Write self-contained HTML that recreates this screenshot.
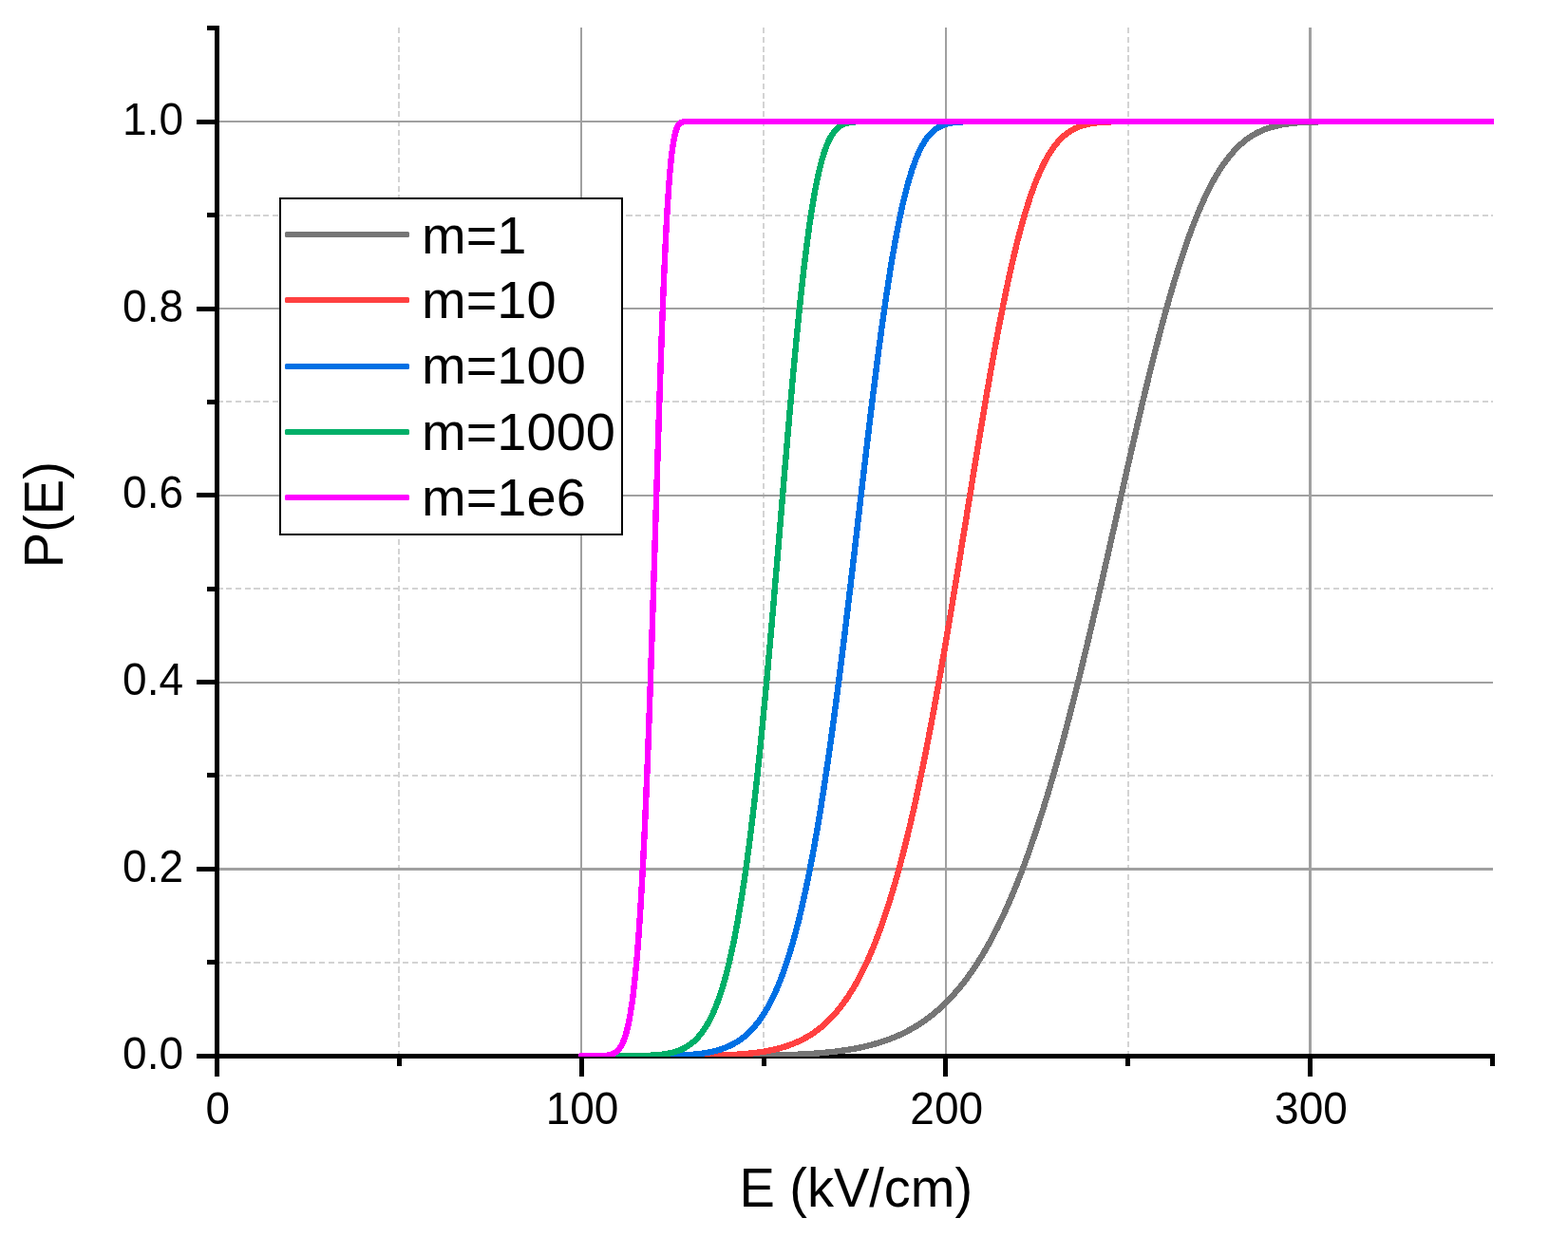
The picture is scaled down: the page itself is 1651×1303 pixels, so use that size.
<!DOCTYPE html>
<html lang="en"><head><meta charset="utf-8"><title>P(E) vs E (kV/cm)</title>
<style>html,body{margin:0;padding:0;background:#fff;}body{width:1651px;height:1303px;overflow:hidden;}svg{display:block;}text{font-family:"Liberation Sans",sans-serif;fill:#000;}</style>
</head><body>
<svg width="1651" height="1303" viewBox="0 0 1651 1303">
<rect x="0" y="0" width="1651" height="1303" fill="#fff"/>
<g shape-rendering="crispEdges">
<line x1="228.3" x2="1572" y1="227" y2="227" stroke="#d3d3d3" stroke-width="2" stroke-dasharray="6.2 3.597"/>
<line x1="228.3" x2="1572" y1="423" y2="423" stroke="#d3d3d3" stroke-width="2" stroke-dasharray="6.2 3.597"/>
<line x1="228.3" x2="1572" y1="620" y2="620" stroke="#d3d3d3" stroke-width="2" stroke-dasharray="6.2 3.597"/>
<line x1="228.3" x2="1572" y1="817" y2="817" stroke="#d3d3d3" stroke-width="2" stroke-dasharray="6.2 3.597"/>
<line x1="228.3" x2="1572" y1="1014" y2="1014" stroke="#d3d3d3" stroke-width="2" stroke-dasharray="6.2 3.597"/>
<line x1="420" x2="420" y1="29" y2="1110" stroke="#d3d3d3" stroke-width="2" stroke-dasharray="6.2 3.597"/>
<line x1="804" x2="804" y1="29" y2="1110" stroke="#d3d3d3" stroke-width="2" stroke-dasharray="6.2 3.597"/>
<line x1="1188" x2="1188" y1="29" y2="1110" stroke="#d3d3d3" stroke-width="2" stroke-dasharray="6.2 3.597"/>
<rect x="231" y="127" width="1341" height="2" fill="#a0a0a0"/>
<rect x="231" y="324" width="1341" height="2" fill="#a0a0a0"/>
<rect x="231" y="521" width="1341" height="2" fill="#a0a0a0"/>
<rect x="231" y="718" width="1341" height="2" fill="#a0a0a0"/>
<rect x="231" y="914" width="1341" height="3" fill="#a0a0a0"/>
<rect x="611" y="29" width="2" height="1081" fill="#a0a0a0"/>
<rect x="995" y="29" width="2" height="1081" fill="#a0a0a0"/>
<rect x="1378" y="29" width="3" height="1081" fill="#a0a0a0"/>
</g>
<g shape-rendering="crispEdges" fill="#000">
<rect x="226" y="27" width="5" height="1088"/>
<rect x="226" y="1110" width="1348" height="5"/>
<rect x="207" y="1110" width="19" height="5"/>
<rect x="218" y="1011" width="8" height="5"/>
<rect x="207" y="913" width="19" height="5"/>
<rect x="218" y="814" width="8" height="5"/>
<rect x="207" y="716" width="19" height="5"/>
<rect x="218" y="618" width="8" height="5"/>
<rect x="207" y="519" width="19" height="5"/>
<rect x="218" y="421" width="8" height="5"/>
<rect x="207" y="323" width="19" height="5"/>
<rect x="218" y="224" width="8" height="5"/>
<rect x="207" y="126" width="19" height="5"/>
<rect x="218" y="27" width="8" height="5"/>
<rect x="226" y="1115" width="5" height="19"/>
<rect x="418" y="1115" width="5" height="8"/>
<rect x="610" y="1115" width="5" height="19"/>
<rect x="802" y="1115" width="5" height="8"/>
<rect x="993" y="1115" width="5" height="19"/>
<rect x="1185" y="1115" width="5" height="8"/>
<rect x="1377" y="1115" width="5" height="19"/>
<rect x="1569" y="1115" width="5" height="8"/>
</g>
<defs><clipPath id="plot"><rect x="228" y="20" width="1345" height="1093"/></clipPath></defs>
<g clip-path="url(#plot)" fill="none" stroke-width="6.4" stroke-linejoin="round" stroke-linecap="round" shape-rendering="crispEdges">
<path d="M612.21 1112.20 L692.79 1112.20 L701.42 1112.20 L707.18 1112.20 L711.02 1112.20 L714.85 1112.19 L717.73 1112.19 L720.61 1112.19 L722.53 1112.19 L724.45 1112.19 L726.36 1112.19 L728.28 1112.19 L730.20 1112.19 L732.12 1112.18 L733.08 1112.18 L734.04 1112.18 L735.00 1112.18 L735.96 1112.18 L736.92 1112.18 L737.88 1112.18 L738.83 1112.18 L739.79 1112.17 L740.75 1112.17 L741.71 1112.17 L742.67 1112.17 L743.63 1112.17 L744.59 1112.17 L745.55 1112.16 L746.51 1112.16 L747.47 1112.16 L748.43 1112.16 L749.39 1112.16 L750.35 1112.15 L751.30 1112.15 L752.26 1112.15 L753.22 1112.15 L754.18 1112.15 L755.14 1112.14 L756.10 1112.14 L757.06 1112.14 L758.02 1112.13 L758.98 1112.13 L759.94 1112.13 L760.90 1112.12 L761.86 1112.12 L762.82 1112.12 L763.78 1112.11 L764.73 1112.11 L765.69 1112.11 L766.65 1112.10 L767.61 1112.10 L768.57 1112.09 L769.53 1112.09 L770.49 1112.08 L771.45 1112.08 L772.41 1112.07 L773.37 1112.07 L774.33 1112.06 L775.29 1112.06 L776.25 1112.05 L777.21 1112.04 L778.16 1112.04 L779.12 1112.03 L780.08 1112.02 L781.04 1112.02 L782.00 1112.01 L782.96 1112.00 L783.92 1111.99 L784.88 1111.98 L785.84 1111.98 L786.80 1111.97 L787.76 1111.96 L788.72 1111.95 L789.68 1111.94 L790.64 1111.93 L791.59 1111.92 L792.55 1111.91 L793.51 1111.90 L794.47 1111.89 L795.43 1111.87 L796.39 1111.86 L797.35 1111.85 L798.31 1111.84 L799.27 1111.82 L800.23 1111.81 L801.19 1111.80 L802.15 1111.78 L803.11 1111.77 L804.06 1111.75 L805.02 1111.73 L805.98 1111.72 L806.94 1111.70 L807.90 1111.68 L808.86 1111.67 L809.82 1111.65 L810.78 1111.63 L811.74 1111.61 L812.70 1111.59 L813.66 1111.57 L814.62 1111.55 L815.58 1111.52 L816.54 1111.50 L817.49 1111.48 L818.45 1111.45 L819.41 1111.43 L820.37 1111.40 L821.33 1111.38 L822.29 1111.35 L823.25 1111.32 L824.21 1111.30 L825.17 1111.27 L826.13 1111.24 L827.09 1111.21 L828.05 1111.17 L829.01 1111.14 L829.97 1111.11 L830.92 1111.07 L831.88 1111.04 L832.84 1111.00 L833.80 1110.97 L834.76 1110.93 L835.72 1110.89 L836.68 1110.85 L837.64 1110.81 L838.60 1110.77 L839.56 1110.72 L840.52 1110.68 L841.48 1110.64 L842.44 1110.59 L843.40 1110.54 L844.35 1110.49 L845.31 1110.44 L846.27 1110.39 L847.23 1110.34 L848.19 1110.29 L849.15 1110.23 L850.11 1110.17 L851.07 1110.12 L852.03 1110.06 L852.99 1110.00 L853.95 1109.93 L854.91 1109.87 L855.87 1109.80 L856.83 1109.74 L857.78 1109.67 L858.74 1109.60 L859.70 1109.53 L860.66 1109.46 L861.62 1109.38 L862.58 1109.30 L863.54 1109.23 L864.50 1109.14 L865.46 1109.06 L866.42 1108.98 L867.38 1108.89 L868.34 1108.80 L869.30 1108.72 L870.25 1108.62 L871.21 1108.53 L872.17 1108.43 L873.13 1108.33 L874.09 1108.23 L875.05 1108.13 L876.01 1108.03 L876.97 1107.92 L877.93 1107.81 L878.89 1107.70 L879.85 1107.58 L880.81 1107.47 L881.77 1107.35 L882.73 1107.23 L883.68 1107.10 L884.64 1106.97 L885.60 1106.85 L886.56 1106.71 L887.52 1106.58 L888.48 1106.44 L889.44 1106.30 L890.40 1106.15 L891.36 1106.01 L892.32 1105.86 L893.28 1105.70 L894.24 1105.55 L895.20 1105.39 L896.16 1105.23 L897.11 1105.06 L898.07 1104.89 L899.03 1104.72 L899.99 1104.54 L900.95 1104.36 L901.91 1104.18 L902.87 1103.99 L903.83 1103.80 L904.79 1103.61 L905.75 1103.41 L906.71 1103.21 L907.67 1103.00 L908.63 1102.79 L909.59 1102.57 L910.54 1102.36 L911.50 1102.13 L912.46 1101.91 L913.42 1101.68 L914.38 1101.44 L915.34 1101.20 L916.30 1100.96 L917.26 1100.71 L918.22 1100.45 L919.18 1100.19 L920.14 1099.93 L921.10 1099.66 L922.06 1099.39 L923.02 1099.11 L923.97 1098.83 L924.93 1098.54 L925.89 1098.24 L926.85 1097.94 L927.81 1097.64 L928.77 1097.33 L929.73 1097.01 L930.69 1096.69 L931.65 1096.37 L932.61 1096.03 L933.57 1095.69 L934.53 1095.35 L935.49 1095.00 L936.44 1094.64 L937.40 1094.28 L938.36 1093.91 L939.32 1093.53 L940.28 1093.15 L941.24 1092.76 L942.20 1092.36 L943.16 1091.96 L944.12 1091.55 L945.08 1091.13 L946.04 1090.71 L947.00 1090.28 L947.96 1089.84 L948.92 1089.39 L949.87 1088.94 L950.83 1088.48 L951.79 1088.01 L952.75 1087.53 L953.71 1087.05 L954.67 1086.56 L955.63 1086.06 L956.59 1085.55 L957.55 1085.03 L958.51 1084.51 L959.47 1083.97 L960.43 1083.43 L961.39 1082.88 L962.35 1082.32 L963.30 1081.75 L964.26 1081.17 L965.22 1080.59 L966.18 1079.99 L967.14 1079.38 L968.10 1078.77 L969.06 1078.14 L970.02 1077.51 L970.98 1076.86 L971.94 1076.21 L972.90 1075.55 L973.86 1074.87 L974.82 1074.19 L975.78 1073.49 L976.73 1072.78 L977.69 1072.07 L978.65 1071.34 L979.61 1070.60 L980.57 1069.85 L981.53 1069.09 L982.49 1068.32 L983.45 1067.54 L984.41 1066.74 L985.37 1065.93 L986.33 1065.12 L987.29 1064.29 L988.25 1063.44 L989.21 1062.59 L990.16 1061.72 L991.12 1060.84 L992.08 1059.95 L993.04 1059.04 L994.00 1058.13 L994.96 1057.19 L995.92 1056.25 L996.88 1055.29 L997.84 1054.32 L998.80 1053.34 L999.76 1052.34 L1000.72 1051.33 L1001.68 1050.30 L1002.63 1049.26 L1003.59 1048.21 L1004.55 1047.14 L1005.51 1046.06 L1006.47 1044.96 L1007.43 1043.85 L1008.39 1042.72 L1009.35 1041.58 L1010.31 1040.42 L1011.27 1039.24 L1012.23 1038.06 L1013.19 1036.85 L1014.15 1035.63 L1015.11 1034.39 L1016.06 1033.14 L1017.02 1031.87 L1017.98 1030.59 L1018.94 1029.29 L1019.90 1027.97 L1020.86 1026.64 L1021.82 1025.28 L1022.78 1023.92 L1023.74 1022.53 L1024.70 1021.13 L1025.66 1019.71 L1026.62 1018.27 L1027.58 1016.81 L1028.54 1015.34 L1029.49 1013.85 L1030.45 1012.34 L1031.41 1010.81 L1032.37 1009.26 L1033.33 1007.70 L1034.29 1006.11 L1035.25 1004.51 L1036.21 1002.89 L1037.17 1001.25 L1038.13 999.59 L1039.09 997.91 L1040.05 996.21 L1041.01 994.49 L1041.97 992.75 L1042.92 990.99 L1043.88 989.22 L1044.84 987.42 L1045.80 985.60 L1046.76 983.76 L1047.72 981.90 L1048.68 980.02 L1049.64 978.12 L1050.60 976.20 L1051.56 974.26 L1052.52 972.29 L1053.48 970.31 L1054.44 968.30 L1055.40 966.27 L1056.35 964.22 L1057.31 962.15 L1058.27 960.06 L1059.23 957.95 L1060.19 955.81 L1061.15 953.65 L1062.11 951.47 L1063.07 949.27 L1064.03 947.04 L1064.99 944.80 L1065.95 942.53 L1066.91 940.24 L1067.87 937.92 L1068.82 935.58 L1069.78 933.22 L1070.74 930.84 L1071.70 928.43 L1072.66 926.00 L1073.62 923.55 L1074.58 921.08 L1075.54 918.58 L1076.50 916.06 L1077.46 913.51 L1078.42 910.94 L1079.38 908.35 L1080.34 905.74 L1081.30 903.10 L1082.25 900.44 L1083.21 897.75 L1084.17 895.04 L1085.13 892.31 L1086.09 889.56 L1087.05 886.78 L1088.01 883.97 L1088.97 881.15 L1089.93 878.30 L1090.89 875.42 L1091.85 872.53 L1092.81 869.61 L1093.77 866.66 L1094.73 863.69 L1095.68 860.70 L1096.64 857.69 L1097.60 854.65 L1098.56 851.59 L1099.52 848.50 L1100.48 845.39 L1101.44 842.26 L1102.40 839.11 L1103.36 835.93 L1104.32 832.73 L1105.28 829.51 L1106.24 826.26 L1107.20 822.99 L1108.16 819.70 L1109.11 816.39 L1110.07 813.05 L1111.03 809.69 L1111.99 806.31 L1112.95 802.91 L1113.91 799.48 L1114.87 796.03 L1115.83 792.57 L1116.79 789.07 L1117.75 785.56 L1118.71 782.03 L1119.67 778.48 L1120.63 774.90 L1121.59 771.31 L1122.54 767.69 L1123.50 764.05 L1124.46 760.40 L1125.42 756.72 L1126.38 753.02 L1127.34 749.31 L1128.30 745.57 L1129.26 741.82 L1130.22 738.04 L1131.18 734.25 L1132.14 730.44 L1133.10 726.62 L1134.06 722.77 L1135.01 718.91 L1135.97 715.03 L1136.93 711.13 L1137.89 707.21 L1138.85 703.28 L1139.81 699.34 L1140.77 695.37 L1141.73 691.40 L1142.69 687.40 L1143.65 683.39 L1144.61 679.37 L1145.57 675.34 L1146.53 671.29 L1147.49 667.22 L1148.44 663.15 L1149.40 659.06 L1150.36 654.95 L1151.32 650.84 L1152.28 646.72 L1153.24 642.58 L1154.20 638.43 L1155.16 634.28 L1156.12 630.11 L1157.08 625.93 L1158.04 621.75 L1159.00 617.55 L1159.96 613.35 L1160.92 609.14 L1161.87 604.92 L1162.83 600.70 L1163.79 596.47 L1164.75 592.23 L1165.71 587.99 L1166.67 583.74 L1167.63 579.49 L1168.59 575.23 L1169.55 570.98 L1170.51 566.71 L1171.47 562.45 L1172.43 558.18 L1173.39 553.91 L1174.35 549.64 L1175.30 545.38 L1176.26 541.11 L1177.22 536.84 L1178.18 532.57 L1179.14 528.30 L1180.10 524.04 L1181.06 519.78 L1182.02 515.52 L1182.98 511.26 L1183.94 507.01 L1184.90 502.77 L1185.86 498.53 L1186.82 494.29 L1187.78 490.07 L1188.73 485.85 L1189.69 481.63 L1190.65 477.43 L1191.61 473.23 L1192.57 469.05 L1193.53 464.87 L1194.49 460.70 L1195.45 456.55 L1196.41 452.40 L1197.37 448.27 L1198.33 444.15 L1199.29 440.04 L1200.25 435.95 L1201.20 431.87 L1202.16 427.81 L1203.12 423.76 L1204.08 419.73 L1205.04 415.71 L1206.00 411.71 L1206.96 407.73 L1207.92 403.77 L1208.88 399.82 L1209.84 395.89 L1210.80 391.99 L1211.76 388.10 L1212.72 384.23 L1213.68 380.39 L1214.63 376.56 L1215.59 372.76 L1216.55 368.98 L1217.51 365.23 L1218.47 361.49 L1219.43 357.79 L1220.39 354.10 L1221.35 350.44 L1222.31 346.81 L1223.27 343.20 L1224.23 339.62 L1225.19 336.06 L1226.15 332.54 L1227.11 329.03 L1228.06 325.56 L1229.02 322.12 L1229.98 318.70 L1230.94 315.31 L1231.90 311.95 L1232.86 308.63 L1233.82 305.33 L1234.78 302.06 L1235.74 298.82 L1236.70 295.62 L1237.66 292.44 L1238.62 289.30 L1239.58 286.19 L1240.54 283.11 L1241.49 280.06 L1242.45 277.05 L1243.41 274.07 L1244.37 271.12 L1245.33 268.21 L1246.29 265.32 L1247.25 262.48 L1248.21 259.66 L1249.17 256.89 L1250.13 254.14 L1251.09 251.43 L1252.05 248.75 L1253.01 246.11 L1253.96 243.50 L1254.92 240.93 L1255.88 238.40 L1256.84 235.89 L1257.80 233.43 L1258.76 230.99 L1259.72 228.60 L1260.68 226.24 L1261.64 223.91 L1262.60 221.62 L1263.56 219.36 L1264.52 217.14 L1265.48 214.95 L1266.44 212.80 L1267.39 210.69 L1268.35 208.60 L1269.31 206.56 L1270.27 204.55 L1271.23 202.57 L1272.19 200.63 L1273.15 198.72 L1274.11 196.84 L1275.07 195.00 L1276.03 193.19 L1276.99 191.42 L1277.95 189.68 L1278.91 187.97 L1279.87 186.30 L1280.82 184.66 L1281.78 183.05 L1282.74 181.48 L1283.70 179.93 L1284.66 178.42 L1285.62 176.94 L1286.58 175.49 L1287.54 174.07 L1288.50 172.69 L1289.46 171.33 L1290.42 170.00 L1291.38 168.71 L1292.34 167.44 L1293.30 166.20 L1294.25 164.99 L1295.21 163.81 L1296.17 162.66 L1297.13 161.53 L1298.09 160.44 L1299.05 159.37 L1300.01 158.32 L1300.97 157.30 L1301.93 156.31 L1302.89 155.35 L1303.85 154.41 L1304.81 153.49 L1305.77 152.60 L1306.73 151.74 L1307.68 150.89 L1308.64 150.07 L1309.60 149.28 L1310.56 148.50 L1311.52 147.75 L1312.48 147.02 L1313.44 146.31 L1314.40 145.62 L1315.36 144.95 L1316.32 144.31 L1317.28 143.68 L1318.24 143.07 L1319.20 142.48 L1320.15 141.91 L1321.11 141.36 L1322.07 140.82 L1323.03 140.30 L1323.99 139.80 L1324.95 139.32 L1325.91 138.85 L1326.87 138.40 L1327.83 137.96 L1328.79 137.54 L1329.75 137.13 L1330.71 136.74 L1331.67 136.36 L1332.63 135.99 L1333.58 135.64 L1334.54 135.30 L1335.50 134.98 L1336.46 134.66 L1337.42 134.36 L1338.38 134.07 L1339.34 133.79 L1340.30 133.52 L1341.26 133.26 L1342.22 133.01 L1343.18 132.77 L1344.14 132.54 L1345.10 132.32 L1346.06 132.11 L1347.01 131.91 L1347.97 131.72 L1348.93 131.53 L1349.89 131.36 L1350.85 131.19 L1351.81 131.02 L1352.77 130.87 L1353.73 130.72 L1354.69 130.58 L1355.65 130.44 L1356.61 130.31 L1357.57 130.19 L1358.53 130.07 L1359.49 129.96 L1360.44 129.85 L1361.40 129.75 L1362.36 129.65 L1363.32 129.56 L1364.28 129.47 L1365.24 129.39 L1366.20 129.31 L1367.16 129.24 L1368.12 129.16 L1369.08 129.10 L1370.04 129.03 L1371.00 128.97 L1371.96 128.91 L1372.92 128.86 L1373.87 128.81 L1374.83 128.76 L1375.79 128.71 L1376.75 128.67 L1377.71 128.63 L1378.67 128.59 L1379.63 128.55 L1380.59 128.51 L1381.55 128.48 L1382.51 128.45 L1383.47 128.42 L1384.43 128.39 L1385.39 128.37 L1386.34 128.34 L1387.30 128.32 L1388.26 128.30 L1389.22 128.28 L1390.18 128.26 L1391.14 128.24 L1392.10 128.22 L1393.06 128.21 L1394.02 128.19 L1394.98 128.18 L1395.94 128.17 L1396.90 128.16 L1397.86 128.14 L1398.82 128.13 L1399.77 128.12 L1400.73 128.11 L1401.69 128.11 L1402.65 128.10 L1403.61 128.09 L1404.57 128.08 L1405.53 128.08 L1406.49 128.07 L1407.45 128.07 L1408.41 128.06 L1409.37 128.06 L1410.33 128.05 L1411.29 128.05 L1412.25 128.04 L1413.20 128.04 L1414.16 128.04 L1415.12 128.03 L1416.08 128.03 L1417.04 128.03 L1418.00 128.03 L1418.96 128.02 L1419.92 128.02 L1420.88 128.02 L1421.84 128.02 L1422.80 128.02 L1423.76 128.02 L1424.72 128.01 L1425.68 128.01 L1426.63 128.01 L1427.59 128.01 L1429.51 128.01 L1431.43 128.01 L1433.35 128.01 L1435.27 128.00 L1438.15 128.00 L1441.98 128.00 L1447.74 128.00 L1462.13 128.00 L1571.48 128.00" stroke="#757575"/>
<path d="M612.21 1112.20 L670.73 1112.20 L676.48 1112.20 L680.32 1112.20 L683.20 1112.20 L686.07 1112.19 L687.99 1112.19 L689.91 1112.19 L691.83 1112.19 L693.75 1112.19 L694.71 1112.19 L695.67 1112.19 L696.63 1112.19 L697.59 1112.18 L698.54 1112.18 L699.50 1112.18 L700.46 1112.18 L701.42 1112.18 L702.38 1112.18 L703.34 1112.18 L704.30 1112.17 L705.26 1112.17 L706.22 1112.17 L707.18 1112.17 L708.14 1112.16 L709.10 1112.16 L710.06 1112.16 L711.02 1112.16 L711.97 1112.15 L712.93 1112.15 L713.89 1112.15 L714.85 1112.14 L715.81 1112.14 L716.77 1112.14 L717.73 1112.13 L718.69 1112.13 L719.65 1112.12 L720.61 1112.12 L721.57 1112.11 L722.53 1112.11 L723.49 1112.10 L724.45 1112.09 L725.40 1112.09 L726.36 1112.08 L727.32 1112.07 L728.28 1112.07 L729.24 1112.06 L730.20 1112.05 L731.16 1112.04 L732.12 1112.03 L733.08 1112.02 L734.04 1112.01 L735.00 1112.00 L735.96 1111.99 L736.92 1111.98 L737.88 1111.97 L738.83 1111.95 L739.79 1111.94 L740.75 1111.93 L741.71 1111.91 L742.67 1111.90 L743.63 1111.88 L744.59 1111.86 L745.55 1111.85 L746.51 1111.83 L747.47 1111.81 L748.43 1111.79 L749.39 1111.77 L750.35 1111.75 L751.30 1111.73 L752.26 1111.70 L753.22 1111.68 L754.18 1111.65 L755.14 1111.63 L756.10 1111.60 L757.06 1111.57 L758.02 1111.54 L758.98 1111.51 L759.94 1111.48 L760.90 1111.44 L761.86 1111.41 L762.82 1111.37 L763.78 1111.34 L764.73 1111.30 L765.69 1111.26 L766.65 1111.21 L767.61 1111.17 L768.57 1111.13 L769.53 1111.08 L770.49 1111.03 L771.45 1110.98 L772.41 1110.93 L773.37 1110.87 L774.33 1110.82 L775.29 1110.76 L776.25 1110.70 L777.21 1110.64 L778.16 1110.57 L779.12 1110.50 L780.08 1110.43 L781.04 1110.36 L782.00 1110.29 L782.96 1110.21 L783.92 1110.13 L784.88 1110.05 L785.84 1109.96 L786.80 1109.88 L787.76 1109.79 L788.72 1109.69 L789.68 1109.60 L790.64 1109.50 L791.59 1109.39 L792.55 1109.29 L793.51 1109.18 L794.47 1109.06 L795.43 1108.95 L796.39 1108.82 L797.35 1108.70 L798.31 1108.57 L799.27 1108.44 L800.23 1108.30 L801.19 1108.16 L802.15 1108.01 L803.11 1107.86 L804.06 1107.71 L805.02 1107.55 L805.98 1107.39 L806.94 1107.22 L807.90 1107.04 L808.86 1106.87 L809.82 1106.68 L810.78 1106.49 L811.74 1106.30 L812.70 1106.09 L813.66 1105.89 L814.62 1105.68 L815.58 1105.46 L816.54 1105.23 L817.49 1105.00 L818.45 1104.76 L819.41 1104.52 L820.37 1104.27 L821.33 1104.01 L822.29 1103.74 L823.25 1103.47 L824.21 1103.19 L825.17 1102.90 L826.13 1102.61 L827.09 1102.30 L828.05 1101.99 L829.01 1101.67 L829.97 1101.34 L830.92 1101.00 L831.88 1100.66 L832.84 1100.30 L833.80 1099.94 L834.76 1099.56 L835.72 1099.18 L836.68 1098.79 L837.64 1098.38 L838.60 1097.97 L839.56 1097.54 L840.52 1097.11 L841.48 1096.66 L842.44 1096.21 L843.40 1095.74 L844.35 1095.26 L845.31 1094.77 L846.27 1094.26 L847.23 1093.75 L848.19 1093.22 L849.15 1092.68 L850.11 1092.12 L851.07 1091.55 L852.03 1090.97 L852.99 1090.38 L853.95 1089.77 L854.91 1089.15 L855.87 1088.51 L856.83 1087.86 L857.78 1087.19 L858.74 1086.51 L859.70 1085.81 L860.66 1085.09 L861.62 1084.36 L862.58 1083.62 L863.54 1082.85 L864.50 1082.07 L865.46 1081.27 L866.42 1080.46 L867.38 1079.62 L868.34 1078.77 L869.30 1077.90 L870.25 1077.01 L871.21 1076.10 L872.17 1075.17 L873.13 1074.23 L874.09 1073.26 L875.05 1072.27 L876.01 1071.26 L876.97 1070.23 L877.93 1069.18 L878.89 1068.10 L879.85 1067.01 L880.81 1065.89 L881.77 1064.74 L882.73 1063.58 L883.68 1062.39 L884.64 1061.18 L885.60 1059.94 L886.56 1058.68 L887.52 1057.40 L888.48 1056.08 L889.44 1054.75 L890.40 1053.38 L891.36 1051.99 L892.32 1050.58 L893.28 1049.13 L894.24 1047.66 L895.20 1046.16 L896.16 1044.64 L897.11 1043.08 L898.07 1041.49 L899.03 1039.88 L899.99 1038.24 L900.95 1036.56 L901.91 1034.86 L902.87 1033.12 L903.83 1031.35 L904.79 1029.55 L905.75 1027.72 L906.71 1025.86 L907.67 1023.96 L908.63 1022.04 L909.59 1020.07 L910.54 1018.08 L911.50 1016.04 L912.46 1013.98 L913.42 1011.88 L914.38 1009.74 L915.34 1007.57 L916.30 1005.36 L917.26 1003.12 L918.22 1000.84 L919.18 998.52 L920.14 996.16 L921.10 993.77 L922.06 991.33 L923.02 988.86 L923.97 986.35 L924.93 983.81 L925.89 981.22 L926.85 978.59 L927.81 975.92 L928.77 973.21 L929.73 970.46 L930.69 967.67 L931.65 964.84 L932.61 961.96 L933.57 959.05 L934.53 956.09 L935.49 953.09 L936.44 950.04 L937.40 946.96 L938.36 943.83 L939.32 940.65 L940.28 937.44 L941.24 934.18 L942.20 930.87 L943.16 927.52 L944.12 924.13 L945.08 920.69 L946.04 917.21 L947.00 913.68 L947.96 910.11 L948.92 906.49 L949.87 902.83 L950.83 899.12 L951.79 895.37 L952.75 891.57 L953.71 887.72 L954.67 883.83 L955.63 879.90 L956.59 875.92 L957.55 871.89 L958.51 867.82 L959.47 863.70 L960.43 859.54 L961.39 855.33 L962.35 851.08 L963.30 846.78 L964.26 842.44 L965.22 838.05 L966.18 833.62 L967.14 829.14 L968.10 824.62 L969.06 820.06 L970.02 815.45 L970.98 810.80 L971.94 806.10 L972.90 801.37 L973.86 796.59 L974.82 791.77 L975.78 786.90 L976.73 782.00 L977.69 777.06 L978.65 772.07 L979.61 767.05 L980.57 761.98 L981.53 756.88 L982.49 751.74 L983.45 746.56 L984.41 741.35 L985.37 736.10 L986.33 730.81 L987.29 725.49 L988.25 720.14 L989.21 714.75 L990.16 709.32 L991.12 703.87 L992.08 698.39 L993.04 692.87 L994.00 687.33 L994.96 681.75 L995.92 676.15 L996.88 670.52 L997.84 664.87 L998.80 659.19 L999.76 653.49 L1000.72 647.77 L1001.68 642.02 L1002.63 636.25 L1003.59 630.47 L1004.55 624.66 L1005.51 618.84 L1006.47 613.00 L1007.43 607.15 L1008.39 601.28 L1009.35 595.40 L1010.31 589.51 L1011.27 583.61 L1012.23 577.70 L1013.19 571.79 L1014.15 565.87 L1015.11 559.94 L1016.06 554.01 L1017.02 548.08 L1017.98 542.14 L1018.94 536.21 L1019.90 530.28 L1020.86 524.36 L1021.82 518.44 L1022.78 512.52 L1023.74 506.62 L1024.70 500.72 L1025.66 494.83 L1026.62 488.96 L1027.58 483.10 L1028.54 477.26 L1029.49 471.43 L1030.45 465.62 L1031.41 459.83 L1032.37 454.06 L1033.33 448.32 L1034.29 442.60 L1035.25 436.90 L1036.21 431.23 L1037.17 425.59 L1038.13 419.98 L1039.09 414.41 L1040.05 408.86 L1041.01 403.35 L1041.97 397.88 L1042.92 392.44 L1043.88 387.04 L1044.84 381.68 L1045.80 376.37 L1046.76 371.09 L1047.72 365.86 L1048.68 360.68 L1049.64 355.54 L1050.60 350.44 L1051.56 345.40 L1052.52 340.41 L1053.48 335.47 L1054.44 330.58 L1055.40 325.74 L1056.35 320.96 L1057.31 316.24 L1058.27 311.57 L1059.23 306.96 L1060.19 302.40 L1061.15 297.91 L1062.11 293.48 L1063.07 289.10 L1064.03 284.79 L1064.99 280.54 L1065.95 276.36 L1066.91 272.23 L1067.87 268.18 L1068.82 264.18 L1069.78 260.25 L1070.74 256.39 L1071.70 252.60 L1072.66 248.87 L1073.62 245.20 L1074.58 241.61 L1075.54 238.08 L1076.50 234.62 L1077.46 231.22 L1078.42 227.90 L1079.38 224.64 L1080.34 221.45 L1081.30 218.33 L1082.25 215.27 L1083.21 212.29 L1084.17 209.37 L1085.13 206.52 L1086.09 203.73 L1087.05 201.01 L1088.01 198.36 L1088.97 195.77 L1089.93 193.25 L1090.89 190.79 L1091.85 188.40 L1092.81 186.07 L1093.77 183.81 L1094.73 181.61 L1095.68 179.47 L1096.64 177.39 L1097.60 175.37 L1098.56 173.41 L1099.52 171.51 L1100.48 169.67 L1101.44 167.89 L1102.40 166.16 L1103.36 164.49 L1104.32 162.87 L1105.28 161.31 L1106.24 159.80 L1107.20 158.34 L1108.16 156.94 L1109.11 155.58 L1110.07 154.27 L1111.03 153.01 L1111.99 151.80 L1112.95 150.63 L1113.91 149.51 L1114.87 148.43 L1115.83 147.39 L1116.79 146.40 L1117.75 145.44 L1118.71 144.53 L1119.67 143.65 L1120.63 142.81 L1121.59 142.01 L1122.54 141.24 L1123.50 140.51 L1124.46 139.81 L1125.42 139.14 L1126.38 138.50 L1127.34 137.89 L1128.30 137.31 L1129.26 136.76 L1130.22 136.24 L1131.18 135.74 L1132.14 135.27 L1133.10 134.82 L1134.06 134.39 L1135.01 133.99 L1135.97 133.61 L1136.93 133.25 L1137.89 132.90 L1138.85 132.58 L1139.81 132.28 L1140.77 131.99 L1141.73 131.72 L1142.69 131.46 L1143.65 131.22 L1144.61 131.00 L1145.57 130.78 L1146.53 130.59 L1147.49 130.40 L1148.44 130.22 L1149.40 130.06 L1150.36 129.91 L1151.32 129.76 L1152.28 129.63 L1153.24 129.50 L1154.20 129.39 L1155.16 129.28 L1156.12 129.18 L1157.08 129.08 L1158.04 128.99 L1159.00 128.91 L1159.96 128.84 L1160.92 128.77 L1161.87 128.70 L1162.83 128.64 L1163.79 128.59 L1164.75 128.54 L1165.71 128.49 L1166.67 128.45 L1167.63 128.41 L1168.59 128.37 L1169.55 128.34 L1170.51 128.30 L1171.47 128.28 L1172.43 128.25 L1173.39 128.23 L1174.35 128.20 L1175.30 128.19 L1176.26 128.17 L1177.22 128.15 L1178.18 128.14 L1179.14 128.12 L1180.10 128.11 L1181.06 128.10 L1182.02 128.09 L1182.98 128.08 L1183.94 128.07 L1184.90 128.06 L1185.86 128.06 L1186.82 128.05 L1187.78 128.04 L1188.73 128.04 L1189.69 128.04 L1190.65 128.03 L1191.61 128.03 L1192.57 128.02 L1193.53 128.02 L1194.49 128.02 L1195.45 128.02 L1196.41 128.01 L1197.37 128.01 L1198.33 128.01 L1199.29 128.01 L1200.25 128.01 L1201.20 128.01 L1203.12 128.01 L1205.04 128.00 L1206.96 128.00 L1209.84 128.00 L1214.63 128.00 L1233.82 128.00 L1571.48 128.00" stroke="#FF4040"/>
<path d="M612.21 1112.20 L654.42 1112.20 L659.21 1112.20 L662.09 1112.20 L664.01 1112.20 L665.93 1112.19 L667.85 1112.19 L668.81 1112.19 L669.77 1112.19 L670.73 1112.19 L671.69 1112.19 L672.64 1112.19 L673.60 1112.18 L674.56 1112.18 L675.52 1112.18 L676.48 1112.18 L677.44 1112.18 L678.40 1112.17 L679.36 1112.17 L680.32 1112.17 L681.28 1112.16 L682.24 1112.16 L683.20 1112.16 L684.16 1112.15 L685.11 1112.15 L686.07 1112.14 L687.03 1112.14 L687.99 1112.13 L688.95 1112.13 L689.91 1112.12 L690.87 1112.11 L691.83 1112.10 L692.79 1112.10 L693.75 1112.09 L694.71 1112.08 L695.67 1112.07 L696.63 1112.06 L697.59 1112.04 L698.54 1112.03 L699.50 1112.02 L700.46 1112.00 L701.42 1111.99 L702.38 1111.97 L703.34 1111.95 L704.30 1111.94 L705.26 1111.92 L706.22 1111.89 L707.18 1111.87 L708.14 1111.85 L709.10 1111.82 L710.06 1111.80 L711.02 1111.77 L711.97 1111.74 L712.93 1111.71 L713.89 1111.67 L714.85 1111.64 L715.81 1111.60 L716.77 1111.56 L717.73 1111.52 L718.69 1111.47 L719.65 1111.42 L720.61 1111.37 L721.57 1111.32 L722.53 1111.27 L723.49 1111.21 L724.45 1111.15 L725.40 1111.08 L726.36 1111.01 L727.32 1110.94 L728.28 1110.87 L729.24 1110.79 L730.20 1110.70 L731.16 1110.62 L732.12 1110.52 L733.08 1110.43 L734.04 1110.33 L735.00 1110.22 L735.96 1110.11 L736.92 1110.00 L737.88 1109.88 L738.83 1109.75 L739.79 1109.62 L740.75 1109.48 L741.71 1109.33 L742.67 1109.18 L743.63 1109.02 L744.59 1108.85 L745.55 1108.68 L746.51 1108.50 L747.47 1108.31 L748.43 1108.12 L749.39 1107.91 L750.35 1107.70 L751.30 1107.47 L752.26 1107.24 L753.22 1107.00 L754.18 1106.75 L755.14 1106.48 L756.10 1106.21 L757.06 1105.93 L758.02 1105.63 L758.98 1105.32 L759.94 1105.00 L760.90 1104.67 L761.86 1104.33 L762.82 1103.97 L763.78 1103.60 L764.73 1103.21 L765.69 1102.81 L766.65 1102.39 L767.61 1101.96 L768.57 1101.51 L769.53 1101.05 L770.49 1100.56 L771.45 1100.06 L772.41 1099.55 L773.37 1099.01 L774.33 1098.45 L775.29 1097.88 L776.25 1097.28 L777.21 1096.67 L778.16 1096.03 L779.12 1095.37 L780.08 1094.69 L781.04 1093.98 L782.00 1093.25 L782.96 1092.49 L783.92 1091.71 L784.88 1090.91 L785.84 1090.08 L786.80 1089.22 L787.76 1088.33 L788.72 1087.41 L789.68 1086.47 L790.64 1085.49 L791.59 1084.48 L792.55 1083.45 L793.51 1082.37 L794.47 1081.27 L795.43 1080.13 L796.39 1078.96 L797.35 1077.75 L798.31 1076.50 L799.27 1075.22 L800.23 1073.90 L801.19 1072.54 L802.15 1071.14 L803.11 1069.69 L804.06 1068.21 L805.02 1066.68 L805.98 1065.12 L806.94 1063.50 L807.90 1061.84 L808.86 1060.13 L809.82 1058.38 L810.78 1056.58 L811.74 1054.73 L812.70 1052.82 L813.66 1050.87 L814.62 1048.87 L815.58 1046.81 L816.54 1044.69 L817.49 1042.53 L818.45 1040.30 L819.41 1038.02 L820.37 1035.68 L821.33 1033.28 L822.29 1030.82 L823.25 1028.30 L824.21 1025.71 L825.17 1023.07 L826.13 1020.35 L827.09 1017.58 L828.05 1014.73 L829.01 1011.82 L829.97 1008.84 L830.92 1005.80 L831.88 1002.68 L832.84 999.49 L833.80 996.22 L834.76 992.89 L835.72 989.48 L836.68 985.99 L837.64 982.43 L838.60 978.80 L839.56 975.08 L840.52 971.29 L841.48 967.42 L842.44 963.47 L843.40 959.43 L844.35 955.32 L845.31 951.12 L846.27 946.84 L847.23 942.48 L848.19 938.03 L849.15 933.50 L850.11 928.88 L851.07 924.18 L852.03 919.39 L852.99 914.52 L853.95 909.56 L854.91 904.51 L855.87 899.37 L856.83 894.15 L857.78 888.84 L858.74 883.44 L859.70 877.95 L860.66 872.38 L861.62 866.72 L862.58 860.97 L863.54 855.13 L864.50 849.20 L865.46 843.19 L866.42 837.09 L867.38 830.91 L868.34 824.64 L869.30 818.29 L870.25 811.85 L871.21 805.33 L872.17 798.73 L873.13 792.04 L874.09 785.28 L875.05 778.44 L876.01 771.52 L876.97 764.52 L877.93 757.44 L878.89 750.30 L879.85 743.08 L880.81 735.79 L881.77 728.43 L882.73 721.01 L883.68 713.52 L884.64 705.96 L885.60 698.35 L886.56 690.68 L887.52 682.95 L888.48 675.17 L889.44 667.34 L890.40 659.46 L891.36 651.53 L892.32 643.56 L893.28 635.55 L894.24 627.50 L895.20 619.42 L896.16 611.30 L897.11 603.16 L898.07 594.99 L899.03 586.81 L899.99 578.60 L900.95 570.38 L901.91 562.15 L902.87 553.91 L903.83 545.67 L904.79 537.42 L905.75 529.18 L906.71 520.95 L907.67 512.73 L908.63 504.53 L909.59 496.34 L910.54 488.18 L911.50 480.04 L912.46 471.94 L913.42 463.87 L914.38 455.84 L915.34 447.86 L916.30 439.92 L917.26 432.03 L918.22 424.19 L919.18 416.42 L920.14 408.71 L921.10 401.06 L922.06 393.49 L923.02 385.99 L923.97 378.56 L924.93 371.22 L925.89 363.96 L926.85 356.79 L927.81 349.72 L928.77 342.73 L929.73 335.85 L930.69 329.06 L931.65 322.38 L932.61 315.81 L933.57 309.34 L934.53 302.99 L935.49 296.75 L936.44 290.63 L937.40 284.63 L938.36 278.74 L939.32 272.98 L940.28 267.34 L941.24 261.83 L942.20 256.44 L943.16 251.19 L944.12 246.06 L945.08 241.06 L946.04 236.19 L947.00 231.45 L947.96 226.84 L948.92 222.36 L949.87 218.01 L950.83 213.80 L951.79 209.71 L952.75 205.75 L953.71 201.93 L954.67 198.23 L955.63 194.66 L956.59 191.21 L957.55 187.89 L958.51 184.69 L959.47 181.61 L960.43 178.65 L961.39 175.82 L962.35 173.09 L963.30 170.48 L964.26 167.98 L965.22 165.60 L966.18 163.31 L967.14 161.14 L968.10 159.06 L969.06 157.08 L970.02 155.21 L970.98 153.42 L971.94 151.73 L972.90 150.12 L973.86 148.60 L974.82 147.16 L975.78 145.80 L976.73 144.52 L977.69 143.31 L978.65 142.18 L979.61 141.11 L980.57 140.11 L981.53 139.17 L982.49 138.29 L983.45 137.46 L984.41 136.70 L985.37 135.98 L986.33 135.31 L987.29 134.69 L988.25 134.12 L989.21 133.58 L990.16 133.09 L991.12 132.63 L992.08 132.21 L993.04 131.82 L994.00 131.46 L994.96 131.13 L995.92 130.83 L996.88 130.55 L997.84 130.30 L998.80 130.06 L999.76 129.85 L1000.72 129.66 L1001.68 129.49 L1002.63 129.33 L1003.59 129.18 L1004.55 129.05 L1005.51 128.94 L1006.47 128.83 L1007.43 128.74 L1008.39 128.65 L1009.35 128.57 L1010.31 128.51 L1011.27 128.44 L1012.23 128.39 L1013.19 128.34 L1014.15 128.30 L1015.11 128.26 L1016.06 128.23 L1017.02 128.20 L1017.98 128.17 L1018.94 128.15 L1019.90 128.13 L1020.86 128.11 L1021.82 128.10 L1022.78 128.08 L1023.74 128.07 L1024.70 128.06 L1025.66 128.05 L1026.62 128.04 L1027.58 128.04 L1028.54 128.03 L1029.49 128.03 L1030.45 128.02 L1031.41 128.02 L1032.37 128.02 L1033.33 128.01 L1034.29 128.01 L1035.25 128.01 L1036.21 128.01 L1037.17 128.01 L1038.13 128.01 L1040.05 128.00 L1041.97 128.00 L1044.84 128.00 L1051.56 128.00 L1571.48 128.00" stroke="#0070E4"/>
<path d="M612.21 1112.20 L642.91 1112.20 L645.78 1112.20 L647.70 1112.20 L649.62 1112.20 L650.58 1112.19 L651.54 1112.19 L652.50 1112.19 L653.46 1112.19 L654.42 1112.19 L655.38 1112.19 L656.34 1112.18 L657.30 1112.18 L658.26 1112.18 L659.21 1112.18 L660.17 1112.17 L661.13 1112.17 L662.09 1112.16 L663.05 1112.16 L664.01 1112.15 L664.97 1112.15 L665.93 1112.14 L666.89 1112.13 L667.85 1112.12 L668.81 1112.11 L669.77 1112.10 L670.73 1112.09 L671.69 1112.08 L672.64 1112.06 L673.60 1112.05 L674.56 1112.03 L675.52 1112.01 L676.48 1111.99 L677.44 1111.96 L678.40 1111.94 L679.36 1111.91 L680.32 1111.88 L681.28 1111.85 L682.24 1111.81 L683.20 1111.77 L684.16 1111.73 L685.11 1111.69 L686.07 1111.64 L687.03 1111.58 L687.99 1111.53 L688.95 1111.46 L689.91 1111.40 L690.87 1111.32 L691.83 1111.25 L692.79 1111.16 L693.75 1111.07 L694.71 1110.98 L695.67 1110.87 L696.63 1110.76 L697.59 1110.65 L698.54 1110.52 L699.50 1110.38 L700.46 1110.24 L701.42 1110.09 L702.38 1109.92 L703.34 1109.75 L704.30 1109.56 L705.26 1109.36 L706.22 1109.15 L707.18 1108.93 L708.14 1108.69 L709.10 1108.44 L710.06 1108.17 L711.02 1107.89 L711.97 1107.58 L712.93 1107.27 L713.89 1106.93 L714.85 1106.57 L715.81 1106.19 L716.77 1105.79 L717.73 1105.37 L718.69 1104.93 L719.65 1104.46 L720.61 1103.96 L721.57 1103.44 L722.53 1102.89 L723.49 1102.31 L724.45 1101.70 L725.40 1101.06 L726.36 1100.39 L727.32 1099.68 L728.28 1098.94 L729.24 1098.16 L730.20 1097.34 L731.16 1096.48 L732.12 1095.58 L733.08 1094.63 L734.04 1093.64 L735.00 1092.61 L735.96 1091.52 L736.92 1090.38 L737.88 1089.20 L738.83 1087.95 L739.79 1086.66 L740.75 1085.30 L741.71 1083.88 L742.67 1082.41 L743.63 1080.86 L744.59 1079.25 L745.55 1077.58 L746.51 1075.83 L747.47 1074.01 L748.43 1072.11 L749.39 1070.13 L750.35 1068.08 L751.30 1065.94 L752.26 1063.72 L753.22 1061.41 L754.18 1059.01 L755.14 1056.51 L756.10 1053.93 L757.06 1051.24 L758.02 1048.45 L758.98 1045.56 L759.94 1042.56 L760.90 1039.46 L761.86 1036.24 L762.82 1032.91 L763.78 1029.46 L764.73 1025.90 L765.69 1022.21 L766.65 1018.39 L767.61 1014.45 L768.57 1010.38 L769.53 1006.17 L770.49 1001.83 L771.45 997.35 L772.41 992.73 L773.37 987.97 L774.33 983.06 L775.29 978.01 L776.25 972.80 L777.21 967.44 L778.16 961.93 L779.12 956.26 L780.08 950.44 L781.04 944.45 L782.00 938.30 L782.96 931.99 L783.92 925.51 L784.88 918.87 L785.84 912.06 L786.80 905.08 L787.76 897.93 L788.72 890.62 L789.68 883.13 L790.64 875.48 L791.59 867.65 L792.55 859.66 L793.51 851.50 L794.47 843.17 L795.43 834.67 L796.39 826.01 L797.35 817.18 L798.31 808.20 L799.27 799.05 L800.23 789.75 L801.19 780.29 L802.15 770.68 L803.11 760.92 L804.06 751.02 L805.02 740.98 L805.98 730.81 L806.94 720.50 L807.90 710.07 L808.86 699.52 L809.82 688.86 L810.78 678.09 L811.74 667.22 L812.70 656.25 L813.66 645.20 L814.62 634.07 L815.58 622.87 L816.54 611.61 L817.49 600.29 L818.45 588.92 L819.41 577.52 L820.37 566.10 L821.33 554.65 L822.29 543.20 L823.25 531.74 L824.21 520.31 L825.17 508.89 L826.13 497.51 L827.09 486.17 L828.05 474.88 L829.01 463.66 L829.97 452.52 L830.92 441.46 L831.88 430.50 L832.84 419.65 L833.80 408.91 L834.76 398.30 L835.72 387.84 L836.68 377.52 L837.64 367.35 L838.60 357.36 L839.56 347.54 L840.52 337.90 L841.48 328.46 L842.44 319.22 L843.40 310.19 L844.35 301.37 L845.31 292.77 L846.27 284.41 L847.23 276.27 L848.19 268.37 L849.15 260.71 L850.11 253.30 L851.07 246.13 L852.03 239.22 L852.99 232.56 L853.95 226.14 L854.91 219.99 L855.87 214.08 L856.83 208.42 L857.78 203.02 L858.74 197.86 L859.70 192.95 L860.66 188.28 L861.62 183.85 L862.58 179.65 L863.54 175.68 L864.50 171.94 L865.46 168.41 L866.42 165.09 L867.38 161.98 L868.34 159.07 L869.30 156.35 L870.25 153.81 L871.21 151.46 L872.17 149.27 L873.13 147.24 L874.09 145.37 L875.05 143.64 L876.01 142.06 L876.97 140.60 L877.93 139.27 L878.89 138.05 L879.85 136.94 L880.81 135.94 L881.77 135.03 L882.73 134.21 L883.68 133.47 L884.64 132.80 L885.60 132.20 L886.56 131.67 L887.52 131.20 L888.48 130.78 L889.44 130.40 L890.40 130.07 L891.36 129.79 L892.32 129.53 L893.28 129.31 L894.24 129.12 L895.20 128.95 L896.16 128.80 L897.11 128.68 L898.07 128.57 L899.03 128.48 L899.99 128.40 L900.95 128.33 L901.91 128.27 L902.87 128.23 L903.83 128.19 L904.79 128.15 L905.75 128.12 L906.71 128.10 L907.67 128.08 L908.63 128.07 L909.59 128.05 L910.54 128.04 L911.50 128.03 L912.46 128.03 L913.42 128.02 L914.38 128.02 L915.34 128.01 L916.30 128.01 L917.26 128.01 L918.22 128.01 L919.18 128.00 L920.14 128.00 L922.06 128.00 L924.93 128.00 L1571.48 128.00" stroke="#00AF68"/>
<path d="M612.21 1112.20 L623.72 1112.20 L624.68 1112.20 L625.64 1112.20 L626.60 1112.19 L627.56 1112.19 L628.52 1112.19 L629.48 1112.18 L630.44 1112.17 L631.40 1112.15 L632.35 1112.14 L633.31 1112.11 L634.27 1112.08 L635.23 1112.04 L636.19 1111.99 L637.15 1111.92 L638.11 1111.83 L639.07 1111.73 L640.03 1111.59 L640.99 1111.43 L641.95 1111.23 L642.91 1110.99 L643.87 1110.70 L644.83 1110.36 L645.78 1109.94 L646.74 1109.45 L647.70 1108.87 L648.66 1108.19 L649.62 1107.39 L650.58 1106.46 L651.54 1105.38 L652.50 1104.13 L653.46 1102.69 L654.42 1101.04 L655.38 1099.15 L656.34 1097.00 L657.30 1094.55 L658.26 1091.77 L659.21 1088.64 L660.17 1085.11 L661.13 1081.15 L662.09 1076.71 L663.05 1071.75 L664.01 1066.23 L664.97 1060.10 L665.93 1053.31 L666.89 1045.81 L667.85 1037.55 L668.81 1028.48 L669.77 1018.54 L670.73 1007.68 L671.69 995.86 L672.64 983.02 L673.60 969.11 L674.56 954.09 L675.52 937.94 L676.48 920.61 L677.44 902.07 L678.40 882.33 L679.36 861.36 L680.32 839.18 L681.28 815.81 L682.24 791.27 L683.20 765.63 L684.16 738.94 L685.11 711.28 L686.07 682.76 L687.03 653.50 L687.99 623.62 L688.95 593.30 L689.91 562.68 L690.87 531.96 L691.83 501.33 L692.79 470.99 L693.75 441.14 L694.71 411.99 L695.67 383.75 L696.63 356.59 L697.59 330.71 L698.54 306.26 L699.50 283.37 L700.46 262.16 L701.42 242.71 L702.38 225.06 L703.34 209.22 L704.30 195.19 L705.26 182.90 L706.22 172.29 L707.18 163.24 L708.14 155.65 L709.10 149.37 L710.06 144.26 L711.02 140.16 L711.97 136.94 L712.93 134.46 L713.89 132.57 L714.85 131.18 L715.81 130.16 L716.77 129.44 L717.73 128.93 L718.69 128.59 L719.65 128.37 L720.61 128.22 L721.57 128.13 L722.53 128.07 L723.49 128.04 L724.45 128.02 L725.40 128.01 L726.36 128.01 L727.32 128.00 L728.28 128.00 L730.20 128.00 L1571.48 128.00" stroke="#FF00FF"/>
</g>
<text transform="translate(193 1126) scale(1 1.025)" font-size="46" text-anchor="end">0.0</text>
<text transform="translate(193 929.14) scale(1 1.025)" font-size="46" text-anchor="end">0.2</text>
<text transform="translate(193 732.28) scale(1 1.025)" font-size="46" text-anchor="end">0.4</text>
<text transform="translate(193 535.42) scale(1 1.025)" font-size="46" text-anchor="end">0.6</text>
<text transform="translate(193 338.56) scale(1 1.025)" font-size="46" text-anchor="end">0.8</text>
<text transform="translate(193 141.7) scale(1 1.025)" font-size="46" text-anchor="end">1.0</text>
<text transform="translate(229.3 1183.5) scale(1 1.025)" font-size="46" text-anchor="middle">0</text>
<text transform="translate(613.01 1183.5) scale(1 1.025)" font-size="46" text-anchor="middle">100</text>
<text transform="translate(996.72 1183.5) scale(1 1.025)" font-size="46" text-anchor="middle">200</text>
<text transform="translate(1380.43 1183.5) scale(1 1.025)" font-size="46" text-anchor="middle">300</text>
<text transform="translate(901.3 1270.8) scale(1 1.03)" font-size="56" text-anchor="middle">E (kV/cm)</text>
<text transform="translate(66 542.2) rotate(-90) scale(1 1.03)" font-size="56" text-anchor="middle">P(E)</text>
<rect x="295" y="209" width="360" height="354" fill="#fff" stroke="#000" stroke-width="2" shape-rendering="crispEdges"/>
<rect x="300" y="244" width="131" height="6" rx="1.5" fill="#757575"/>
<text transform="translate(444 266.7)" font-size="56" text-anchor="start">m=1</text>
<rect x="300" y="313" width="131" height="6" rx="1.5" fill="#FF4040"/>
<text transform="translate(444 335.3)" font-size="56" text-anchor="start">m=10</text>
<rect x="300" y="383" width="131" height="6" rx="1.5" fill="#0070E4"/>
<text transform="translate(444 404.4)" font-size="56" text-anchor="start">m=100</text>
<rect x="300" y="452" width="131" height="6" rx="1.5" fill="#00AF68"/>
<text transform="translate(444 473.5)" font-size="56" text-anchor="start">m=1000</text>
<rect x="300" y="521" width="131" height="6" rx="1.5" fill="#FF00FF"/>
<text transform="translate(444 543.4)" font-size="56" text-anchor="start">m=1e6</text>
</svg></body></html>
